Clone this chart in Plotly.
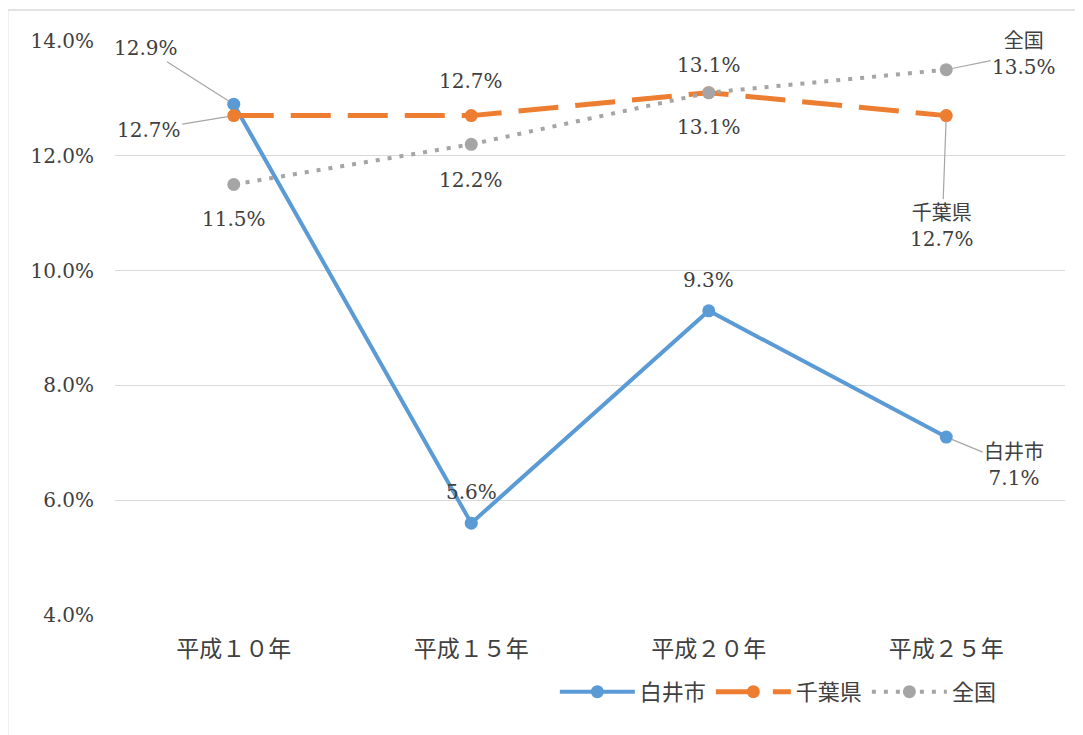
import plotly.graph_objects as go

categories = ["平成１０年", "平成１５年", "平成２０年", "平成２５年"]
shiroi = [12.9, 5.6, 9.3, 7.1]
chiba = [12.7, 12.7, 13.1, 12.7]
zenkoku = [11.5, 12.2, 13.1, 13.5]
series_names = ["白井市", "千葉県", "全国"]
y_ticks = [4, 6, 8, 10, 12, 14]

colors = ["#5B9BD5", "#ED7D31", "#A5A5A5"]
dashes = ["solid", "40px,17px", "4px,8px"]
widths = [4, 5, 4]
series = [shiroi, chiba, zenkoku]

SERIF = "DejaVu Serif, Noto Sans CJK JP"
SANS = "Noto Sans CJK JP"

fig = go.Figure()
for name, vals, c, d, w in zip(series_names, series, colors, dashes, widths):
    fig.add_trace(go.Scatter(
        x=categories, y=vals, name=name, mode="lines+markers",
        line=dict(color=c, width=w, dash=d),
        marker=dict(color=c, size=13),
    ))

# label offsets (ax, ay in px; leader flag) per series per point
offsets = [
    [(-88, -56, True), (0, -31, False), (0, -31, False), (68, 28, True)],
    [(-85, 14, True), (0, -35, False), (0, 34, False), (-4, 110, True)],
    [(0, 34, False), (0, 36, False), (0, -28, False), (78, -16, True)],
]
annotations = []
for si, (name, vals) in enumerate(zip(series_names, series)):
    for pi, v in enumerate(vals):
        ax, ay, leader = offsets[si][pi]
        txt = f"{v:.1f}%"
        if pi == len(vals) - 1:
            txt = f"{name}<br>{txt}"
        if leader:
            annotations.append(dict(
                x=categories[pi], y=v, xref="x", yref="y", text=txt,
                showarrow=True, ax=ax, ay=ay, arrowhead=0, arrowwidth=1.2,
                arrowcolor="#A6A6A6", standoff=6,
                font=dict(family=SERIF, size=20, color="#404040"),
            ))
        else:
            annotations.append(dict(
                x=categories[pi], y=v, xref="x", yref="y", text=txt,
                showarrow=False, yshift=-ay,
                font=dict(family=SERIF, size=20, color="#404040"),
            ))

fig.update_layout(
    width=1083, height=735,
    paper_bgcolor="white", plot_bgcolor="white",
    margin=dict(l=107, r=26, t=33, b=128),
    showlegend=True,
    legend=dict(orientation="h", x=0.463, y=-0.134, xanchor="left", yanchor="middle",
                font=dict(family=SANS, size=22, color="#404040"),
                itemwidth=75, tracegroupgap=0),
    annotations=annotations,
    shapes=[
        dict(type="line", xref="paper", yref="paper", x0=-0.113, x1=1.04,
             y0=1.054, y1=1.054, line=dict(color="#D9D9D9", width=1.5)),
        dict(type="line", xref="paper", yref="paper", x0=-0.113, x1=-0.113,
             y0=-0.21, y1=1.054, line=dict(color="#D9D9D9", width=1.5)),
    ],
)
fig.update_xaxes(type="category", range=[-0.5, 3.5], showgrid=False, showline=False,
                 zeroline=False, ticks="", ticklabelstandoff=18,
                 tickfont=dict(family=SANS, size=23, color="#404040"))
fig.update_yaxes(range=[4, 14], tickvals=y_ticks, ticktext=[f"{t:.1f}%" for t in y_ticks],
                 showgrid=True, gridcolor="#D9D9D9", gridwidth=1.3, zeroline=False,
                 showline=False, ticks="", ticklabelstandoff=20,
                 tickfont=dict(family=SERIF, size=20, color="#404040"))

fig.write_html("out.html")
